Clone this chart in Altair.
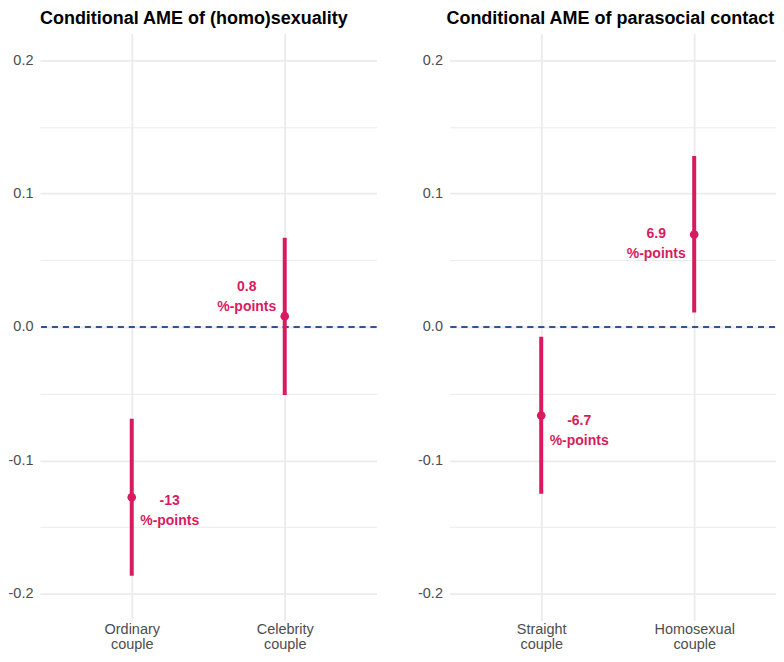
import altair as alt
import pandas as pd

# ---- data ----
titles = ["Conditional AME of (homo)sexuality", "Conditional AME of parasocial contact"]

left_cats = ["Ordinary couple", "Celebrity couple"]
left_est = [-0.1276, 0.0081]
left_lo = [-0.1864, -0.0509]
left_hi = [-0.0688, 0.0668]
left_lab = ["-13", "0.8"]
left_lab_y = [-0.1304, 0.0297]
left_lab_side = ["right", "left"]

right_cats = ["Straight couple", "Homosexual couple"]
right_est = [-0.0663, 0.0693]
right_lo = [-0.1250, 0.0108]
right_hi = [-0.0073, 0.1282]
right_lab = ["-6.7", "6.9"]
right_lab_y = [-0.0707, 0.0698]
right_lab_side = ["right", "left"]

y_ticks = [-0.2, -0.15, -0.1, -0.05, 0.0, 0.05, 0.1, 0.15, 0.2]
y_domain = [-0.22, 0.22]

PINK = "#d81b60"
NAVY = "#1f4e8c"
GRID = "#ebebeb"
FONT = "Liberation Sans"
LABEL_SIZE = 14.5


def panel(title, cats, est, lo, hi, lab, lab_y, side, width, title_dx):
    df = pd.DataFrame({
        "cat": cats,
        "est": est,
        "lo": lo,
        "hi": hi,
        "lab": [l + "\n%-points" for l in lab],
        "lab_y": lab_y,
        "side": side,
    })
    x = alt.X(
        "cat:N",
        sort=cats,
        scale=alt.Scale(type="point", padding=0.6, domain=cats),
        axis=alt.Axis(
            title=None, domain=False, ticks=False, tickSize=0, labelAngle=0,
            labelPadding=2, labelExpr="split(datum.label, ' ')", labelLineHeight=15,
            labelFont=FONT, labelFontSize=LABEL_SIZE, labelColor="#4d4d4d",
            grid=True, gridColor=GRID, gridWidth=1.8,
        ),
    )
    y_scale = alt.Scale(domain=y_domain, nice=False, zero=False)
    y_axis = alt.Axis(
        title=None, domain=False, ticks=False, tickSize=0, values=y_ticks,
        labelPadding=7, labelFont=FONT, labelFontSize=LABEL_SIZE, labelColor="#4d4d4d",
        labelExpr="round(datum.value*100) % 10 == 0 ? replace(format(datum.value, '.1f'), '\u2212', '-') : ''",
        grid=True, gridColor=GRID,
        gridWidth={"condition": {"test": "round(datum.value*100) % 10 != 0", "value": 1.0}, "value": 1.8},
    )
    base = alt.Chart(df)
    zero = base.mark_rule(color=NAVY, strokeDash=[6, 5], strokeWidth=1.7).encode(
        y=alt.datum(0, scale=y_scale, axis=y_axis)
    )
    ci = base.mark_rule(color=PINK, strokeWidth=4).encode(
        x=x, y=alt.Y("lo:Q", scale=y_scale, axis=y_axis), y2="hi:Q"
    )
    pt = base.mark_circle(color=PINK, size=75, opacity=1).encode(
        x=x, y=alt.Y("est:Q", scale=y_scale, axis=y_axis)
    )
    txt_kw = dict(font=FONT, fontSize=14, fontWeight="bold", color=PINK,
                  lineBreak="\n", lineHeight=20, baseline="middle", align="center")
    txt_r = base.transform_filter(alt.datum.side == "right").mark_text(dx=38, **txt_kw).encode(
        x=x, y=alt.Y("lab_y:Q", scale=y_scale, axis=y_axis), text="lab:N"
    )
    txt_l = base.transform_filter(alt.datum.side == "left").mark_text(dx=-38, **txt_kw).encode(
        x=x, y=alt.Y("lab_y:Q", scale=y_scale, axis=y_axis), text="lab:N"
    )
    return alt.layer(zero, ci, pt, txt_r, txt_l).properties(
        width=width, height=588,
        title=alt.TitleParams(title, anchor="start", frame="group", fontSize=18, dx=title_dx,
                              font=FONT, fontWeight="bold", color="black", offset=5),
    )


left = panel(titles[0], left_cats, left_est, left_lo, left_hi, left_lab, left_lab_y, left_lab_side, 337, 0)
right = panel(titles[1], right_cats, right_est, right_lo, right_hi, right_lab, right_lab_y, right_lab_side, 337, -3)

chart = alt.hconcat(left, right, spacing=40).resolve_scale(
    x="independent", y="independent"
).properties(
    padding={"top": 2, "left": 0, "right": -11, "bottom": 0}
).configure_view(stroke=None)

chart.save("out.html", embed_options={"renderer": "svg", "actions": False})
